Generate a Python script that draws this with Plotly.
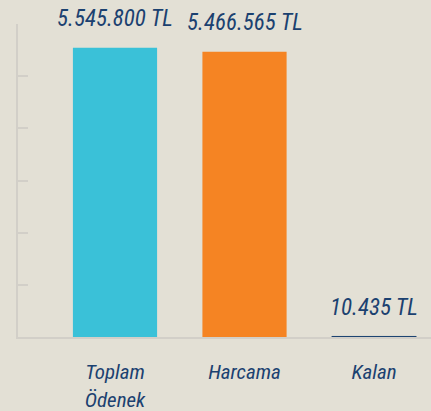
import plotly.graph_objects as go

categories = ["Toplam Ödenek", "Harcama", "Kalan"]
tick_labels = ["Toplam<br>Ödenek", "Harcama", "Kalan"]
values = [5545800, 5466565, 10435]
value_labels = ["5.545.800 TL", "5.466.565 TL", "10.435 TL"]
colors = ["#3AC1D8", "#F58423", "#1C4370"]

BG = "#E3E0D5"
NAVY = "#1B4170"
FONT = "Roboto Condensed, Arial Narrow, sans-serif"

fig = go.Figure()
fig.add_trace(go.Bar(
    x=categories, y=values,
    marker=dict(color=colors, line=dict(color=colors, width=[0, 0, 1])),
    width=0.65,
    hoverinfo="skip",
))

for c, v, t in zip(categories, values, value_labels):
    fig.add_annotation(x=c, y=v, text=f"<i>{t}</i>", showarrow=False,
                       yshift=29, yanchor="middle",
                       font=dict(family=FONT, size=23, color=NAVY))

fig.update_layout(
    width=431, height=411,
    margin=dict(l=18, r=0, t=24, b=74),
    paper_bgcolor=BG, plot_bgcolor=BG,
    showlegend=False,
    bargap=0.35,
)
fig.update_xaxes(
    range=[-0.749, 2.44],
    tickmode="array", tickvals=categories,
    ticktext=[f"<i>{t}</i>" for t in tick_labels],
    tickfont=dict(family=FONT, size=21, color=NAVY),
    showline=True, linecolor="#D2CFC8", linewidth=2,
    showgrid=False, ticks="", zeroline=False,
    ticklabelstandoff=15, automargin=False,
)
fig.update_yaxes(
    range=[0, 6000000], dtick=1000000,
    showline=True, linecolor="#D2CFC8", linewidth=2,
    ticks="inside", ticklen=10, tickwidth=2, tickcolor="#D2CFC8",
    showticklabels=False, showgrid=False, zeroline=False,
    automargin=False,
)

fig.write_html(
    "out.html",
    config={"displayModeBar": False},
    post_script="document.body.style.margin='0';document.body.style.overflow='hidden';",
)
